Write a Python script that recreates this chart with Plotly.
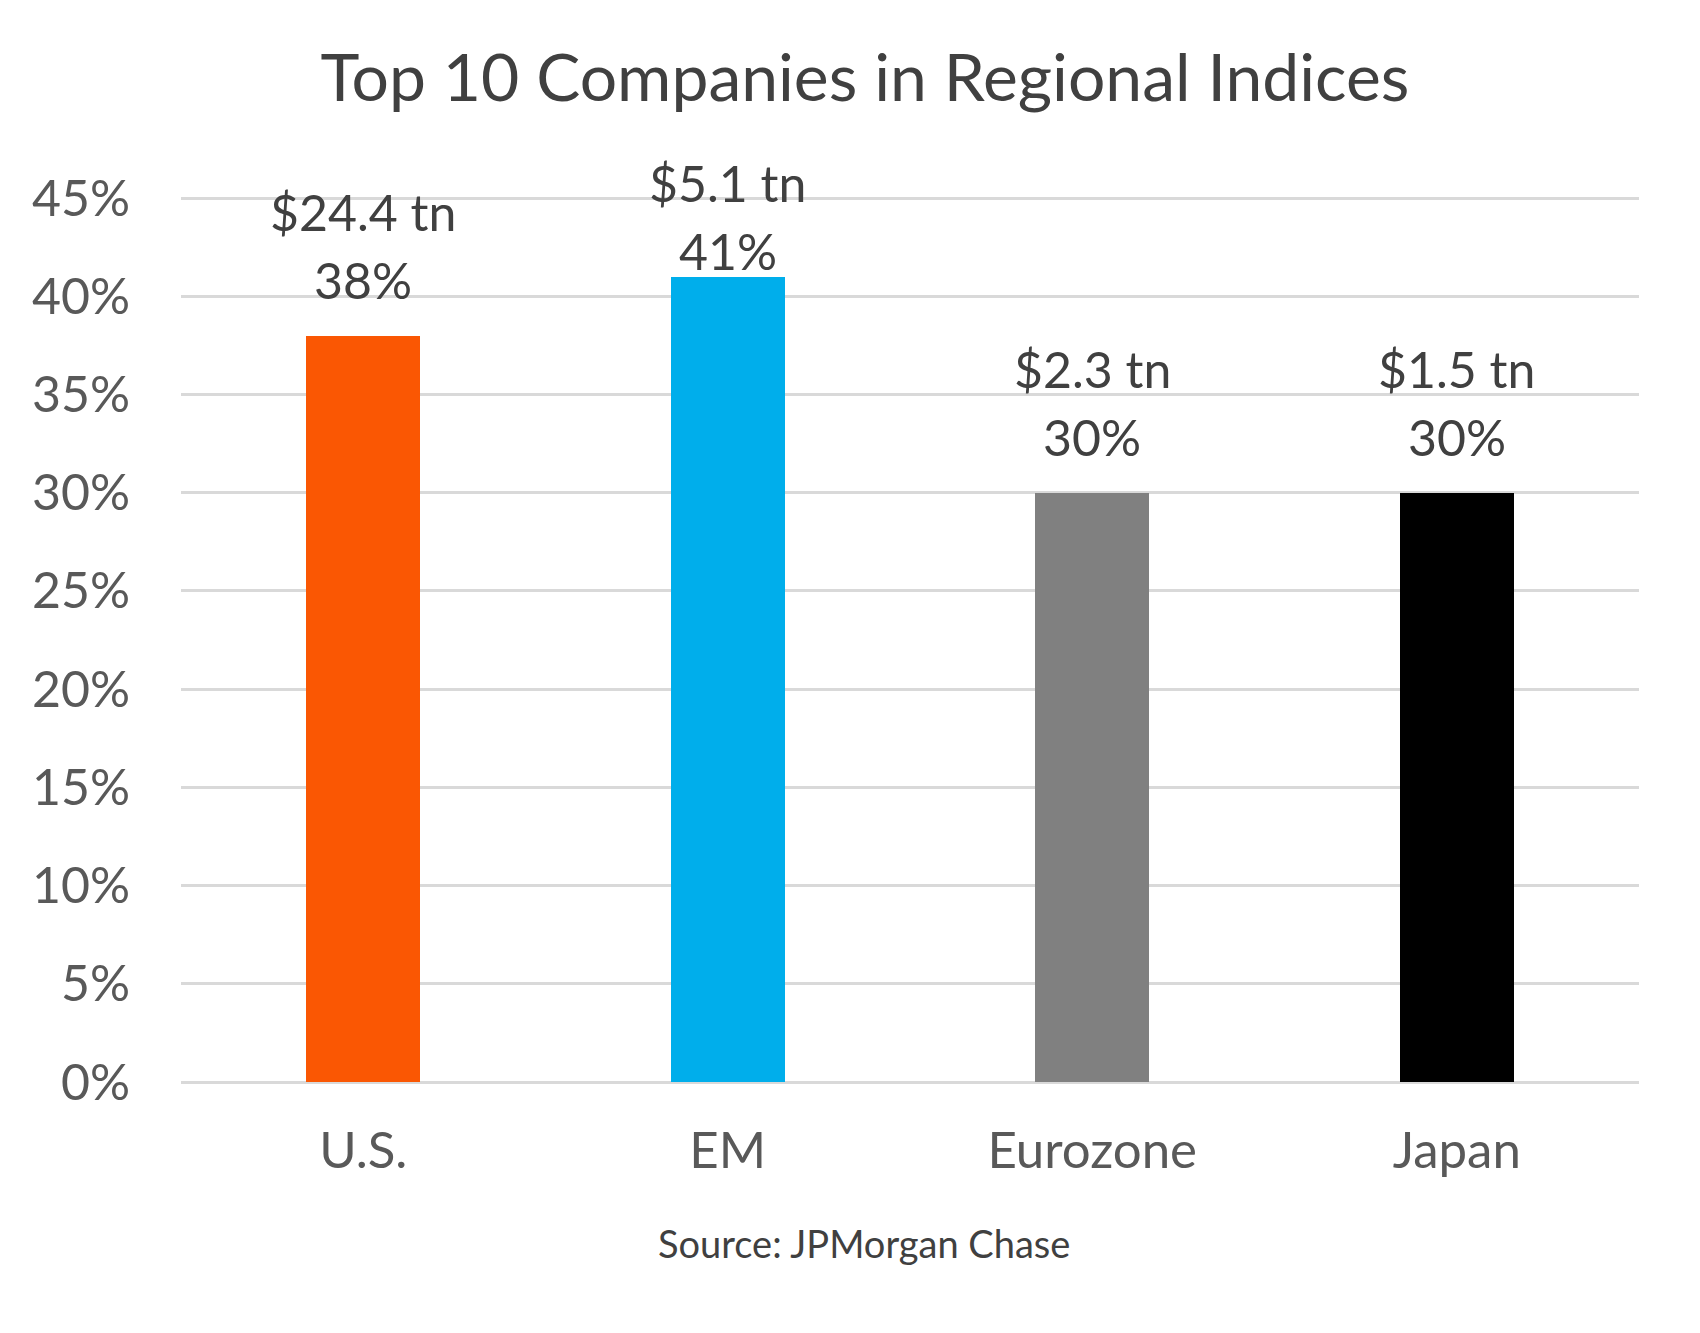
import plotly.graph_objects as go

categories = ["U.S.", "EM", "Eurozone", "Japan"]
shares = [38, 41, 30, 30]
market_caps = ["$24.4 tn", "$5.1 tn", "$2.3 tn", "$1.5 tn"]
tick_vals = [0, 5, 10, 15, 20, 25, 30, 35, 40, 45]
tick_text = [f"{v}%" for v in tick_vals]

bar_colors = ["#FA5703", "#00AEEB", "#808080", "#000000"]
pct_shift = [56, 26, 56, 56]   # label offset above bar top (px)
line_gap = 68                  # spacing between the two label lines (px)

FONT = "Lato"
PLOT_TOP, PLOT_BOTTOM, PLOT_LEFT, PLOT_RIGHT = 188, 1082, 181, 1639
Y_MAX = 45 + 10 * 45 / (1082 - 198)  # leave room so 45% gridline shows

fig = go.Figure(go.Bar(
    x=categories, y=shares, marker=dict(color=bar_colors, line=dict(width=0)),
    width=0.313, hoverinfo="skip",
))

anns = []
for c, v, m, s in zip(categories, shares, market_caps, pct_shift):
    anns.append(dict(x=c, y=v, xref="x", yref="y", text=f"{v}%", showarrow=False,
                     yanchor="middle", yshift=s, font=dict(family=FONT, size=50, color="#404040")))
    anns.append(dict(x=c, y=v, xref="x", yref="y", text=m, showarrow=False,
                     yanchor="middle", yshift=s + line_gap, font=dict(family=FONT, size=50, color="#404040")))
anns.append(dict(x=(864 - PLOT_LEFT) / (PLOT_RIGHT - PLOT_LEFT),
                 y=-(1243 - PLOT_BOTTOM) / (PLOT_BOTTOM - PLOT_TOP),
                 xref="paper", yref="paper", text="Source: JPMorgan Chase", yanchor="middle",
                 showarrow=False, font=dict(family=FONT, size=38, color="#404040")))

fig.update_layout(
    width=1700, height=1333,
    margin=dict(l=PLOT_LEFT, r=1700 - PLOT_RIGHT, t=PLOT_TOP, b=1333 - PLOT_BOTTOM),
    paper_bgcolor="white", plot_bgcolor="white",
    title=dict(text="Top 10 Companies in Regional Indices", x=865 / 1700, xanchor="center",
               xref="container", y=1 - 78 / 1333, yanchor="middle", yref="container",
               font=dict(family=FONT, size=66, color="#404040")),
    showlegend=False,
    bargap=0,
    xaxis=dict(showgrid=False, showline=False, zeroline=False, ticks="",
               tickfont=dict(family=FONT, size=51, color="#595959"), ticklabelstandoff=34),
    yaxis=dict(range=[0, Y_MAX], tickvals=tick_vals, ticktext=tick_text, showgrid=True,
               gridcolor="#D9D9D9", gridwidth=3, zeroline=True, zerolinecolor="#D9D9D9",
               zerolinewidth=3, showline=False, ticks="",
               tickfont=dict(family=FONT, size=50, color="#595959"), ticklabelstandoff=50),
    annotations=anns,
)
fig.write_html("out.html")
